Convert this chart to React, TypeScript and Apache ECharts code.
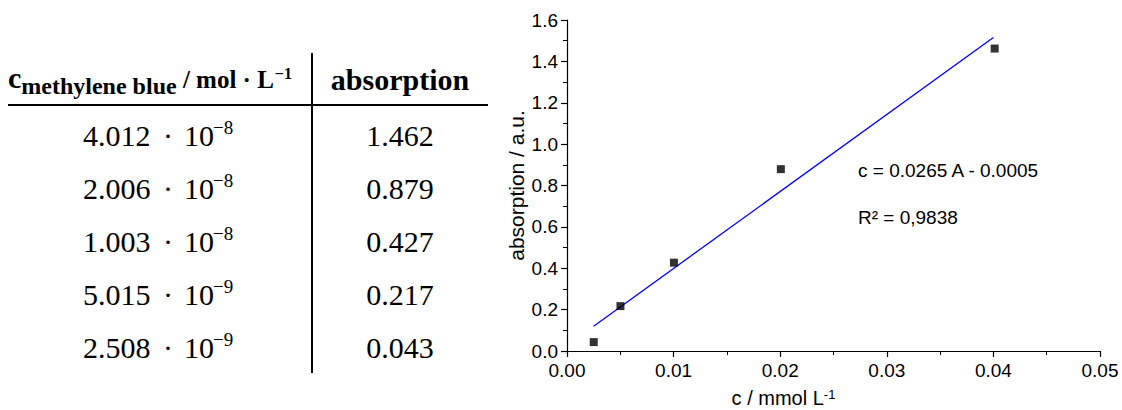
import React, { useEffect, useRef } from "react";
import * as echarts from "echarts";

// ---- table data ----
const concMantissa = ["4.012", "2.006", "1.003", "5.015", "2.508"];
const concExponent = ["\u22128", "\u22128", "\u22128", "\u22129", "\u22129"];
const absorptionLabels = ["1.462", "0.879", "0.427", "0.217", "0.043"];

// ---- plot data ----
const plotConc = [0.04012, 0.02006, 0.01003, 0.005015, 0.002508];
const absorption = [1.462, 0.879, 0.427, 0.217, 0.043];

// linear fit endpoints
const fitConc = [0.0025, 0.04];
const fitAbs = [0.12, 1.515];

const xTickValues = [0, 0.01, 0.02, 0.03, 0.04, 0.05];
const yTickValues = [0, 0.2, 0.4, 0.6, 0.8, 1.0, 1.2, 1.4, 1.6];

const fitEquation = "c = 0.0265 A - 0.0005";
const fitR2 = "R\u00B2 = 0,9838";

const SERIF = "Liberation Serif";
const SANS = "Liberation Sans";

function measure(text: string, font: string): number {
  const c = document.createElement("canvas");
  const ctx = c.getContext("2d");
  if (!ctx) return text.length * 10;
  ctx.font = font;
  return ctx.measureText(text).width;
}

function txt(x: number, y: number, text: string, size: number, weight: string, family: string, align = "left") {
  return {
    type: "text",
    x,
    y,
    silent: true,
    style: {
      text,
      fill: "#000",
      fontSize: size,
      fontWeight: weight,
      fontFamily: family,
      align,
      textAlign: align,
      verticalAlign: "middle",
      textVerticalAlign: "middle",
    },
  };
}

function buildTable(): any[] {
  const els: any[] = [];
  const mid = (baseline: number, size: number) => baseline - 0.3375 * size;

  // header
  const hC = 30, hSub = 24, hUnit = 25, hSup = 16;
  let x = 8;
  els.push(txt(x, mid(88, hC), "c", hC, "bold", SERIF));
  x += measure("c", `bold ${hC}px "${SERIF}"`);
  els.push(txt(x, mid(94, hSub), "methylene blue", hSub, "bold", SERIF));
  x += measure("methylene blue", `bold ${hSub}px "${SERIF}"`);
  const unit = " / mol \u00B7 L";
  els.push(txt(x, mid(88, hUnit), unit, hUnit, "bold", SERIF));
  x += measure(unit, `bold ${hUnit}px "${SERIF}"`);
  els.push(txt(x + 1, mid(79, hSup), "\u22121", hSup, "bold", SERIF));
  els.push(txt(400, mid(90, 30), "absorption", 30, "bold", SERIF, "center"));

  // rows
  const fMain = 30, fExp = 19;
  for (let i = 0; i < concMantissa.length; i++) {
    const b = 146 + i * 52.9;
    els.push(txt(83, mid(b, fMain), concMantissa[i], fMain, "normal", SERIF));
    els.push(txt(168, mid(b, fMain), "\u00B7", fMain, "normal", SERIF, "center"));
    els.push(txt(184, mid(b, fMain), "10", fMain, "normal", SERIF));
    els.push(txt(213, mid(b - 12, fExp), concExponent[i], fExp, "normal", SERIF));
    els.push(txt(400, mid(b, fMain), absorptionLabels[i], fMain, "normal", SERIF, "center"));
  }

  // rules
  els.push({ type: "line", silent: true, shape: { x1: 8, y1: 105, x2: 488, y2: 105 }, style: { stroke: "#000", lineWidth: 2 } });
  els.push({ type: "line", silent: true, shape: { x1: 312, y1: 53, x2: 312, y2: 373 }, style: { stroke: "#000", lineWidth: 2 } });

  // fit annotation
  els.push(txt(858, 170, fitEquation, 19, "normal", SANS));
  els.push(txt(858, 217, fitR2, 19, "normal", SANS));
  return els;
}

export default function App() {
  const ref = useRef<HTMLDivElement>(null);
  useEffect(() => {
    document.body.style.margin = "0";
    if (!ref.current) return;
    const chart = echarts.init(ref.current, null, { renderer: "svg" });
    const axisCommon = {
      type: "value",
      axisLine: { show: true, onZero: false, lineStyle: { color: "#000", width: 1.2 } },
      axisTick: { show: true, inside: false, length: 6, lineStyle: { color: "#000", width: 1.2 } },
      minorTick: { show: true, splitNumber: 2, length: 4, lineStyle: { color: "#000", width: 1 } },
      splitLine: { show: false },
      minorSplitLine: { show: false },
    };
    const option: any = {
      animation: false,
      backgroundColor: "#fff",
      grid: { left: 567, right: 22, top: 20, bottom: 59, containLabel: false, outerBoundsMode: "none" },
      xAxis: {
        ...axisCommon,
        min: xTickValues[0],
        max: xTickValues[xTickValues.length - 1],
        interval: xTickValues[1] - xTickValues[0],
        axisLabel: { color: "#000", fontSize: 19, fontFamily: SANS, margin: 10, formatter: (v: number) => v.toFixed(2) },
        name: "{m|c / mmol L}{s|-1}",
        nameLocation: "middle",
        nameGap: 37,
        nameTextStyle: {
          padding: [0, 100, 0, 0],
          rich: {
            m: { fontSize: 20, lineHeight: 20, fontFamily: SANS, color: "#000", verticalAlign: "bottom" },
            s: { fontSize: 13, lineHeight: 13, fontFamily: SANS, color: "#000", verticalAlign: "top" },
          },
        },
      },
      yAxis: {
        ...axisCommon,
        min: yTickValues[0],
        max: yTickValues[yTickValues.length - 1],
        interval: yTickValues[1] - yTickValues[0],
        axisLabel: { color: "#000", fontSize: 19, fontFamily: SANS, margin: 9, formatter: (v: number) => v.toFixed(1) },
        name: "absorption / a.u.",
        nameLocation: "middle",
        nameGap: 40,
        nameTextStyle: { fontSize: 21, fontFamily: SANS, color: "#000" },
      },
      series: [
        {
          type: "line",
          data: fitConc.map((c, i) => [c, fitAbs[i]]),
          showSymbol: false,
          symbol: "none",
          lineStyle: { color: "#0000ff", width: 1.3 },
          z: 2,
        },
        {
          type: "scatter",
          data: plotConc.map((c, i) => [c, absorption[i]]),
          symbol: "rect",
          symbolSize: 8,
          itemStyle: { color: "#000" },
          z: 3,
        },
      ],
      graphic: buildTable(),
    };
    chart.setOption(option);
    return () => chart.dispose();
  }, []);
  return <div ref={ref} style={{ width: 1122, height: 410 }} />;
}
